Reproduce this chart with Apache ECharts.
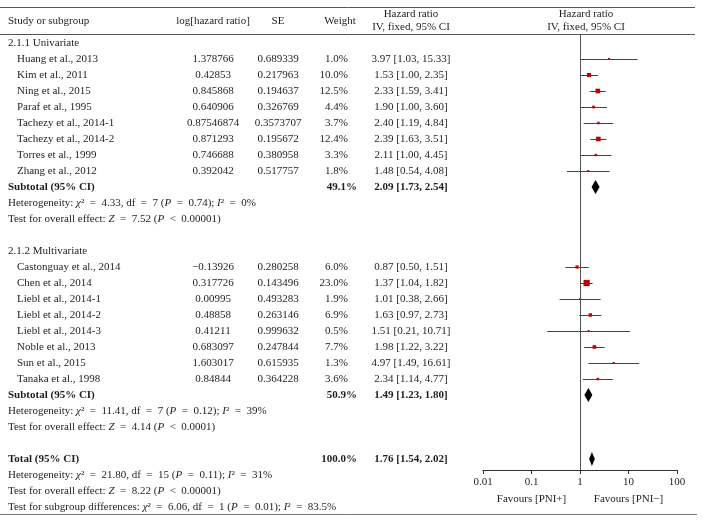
<!DOCTYPE html>
<html><head><meta charset="utf-8">
<script src="https://cdn.jsdelivr.net/npm/echarts@6/dist/echarts.min.js"></script>
<style>html,body{margin:0;padding:0;background:#fff}#c{width:703px;height:521px}</style>
</head><body><div id="c"></div>
<script>
// ---------------- data ----------------
const uniStudies = ['Huang et al., 2013','Kim et al., 2011','Ning et al., 2015','Paraf et al., 1995','Tachezy et al., 2014-1','Tachezy et al., 2014-2','Torres et al., 1999','Zhang et al., 2012'];
const uniLogHR = ['1.378766','0.42853','0.845868','0.640906','0.87546874','0.871293','0.746688','0.392042'];
const uniSE = ['0.689339','0.217963','0.194637','0.326769','0.3573707','0.195672','0.380958','0.517757'];
const uniWeight = [1.0,10.0,12.5,4.4,3.7,12.4,3.3,1.8];
const uniHR = [3.97,1.53,2.33,1.90,2.40,2.39,2.11,1.48];
const uniLo = [1.03,1.00,1.59,1.00,1.19,1.63,1.00,0.54];
const uniHi = [15.33,2.35,3.41,3.60,4.84,3.51,4.45,4.08];

const multiStudies = ['Castonguay et al., 2014','Chen et al., 2014','Liebl et al., 2014-1','Liebl et al., 2014-2','Liebl et al., 2014-3','Noble et al., 2013','Sun et al., 2015','Tanaka et al., 1998'];
const multiLogHR = ['\u22120.13926','0.317726','0.00995','0.48858','0.41211','0.683097','1.603017','0.84844'];
const multiSE = ['0.280258','0.143496','0.493283','0.263146','0.999632','0.247844','0.615935','0.364228'];
const multiWeight = [6.0,23.0,1.9,6.9,0.5,7.7,1.3,3.6];
const multiHR = [0.87,1.37,1.01,1.63,1.51,1.98,4.97,2.34];
const multiLo = [0.50,1.04,0.38,0.97,0.21,1.22,1.49,1.14];
const multiHi = [1.51,1.82,2.66,2.73,10.71,3.22,16.61,4.77];

const subgroupNames = ['2.1.1 Univariate','2.1.2 Multivariate'];
const subtotalWeight = [49.1,50.9];
const subtotalHR = [2.09,1.49];
const subtotalLo = [1.73,1.23];
const subtotalHi = [2.54,1.80];
// "\u2002" = en space used around relational operators (math spacing)
const subHeterogeneity = [
  'Heterogeneity: {i|\u03c7}\u00b2\u2002=\u20024.33, df\u2002=\u20027 ({i|P}\u2002=\u20020.74); {i|I}\u00b2\u2002=\u20020%',
  'Heterogeneity: {i|\u03c7}\u00b2\u2002=\u200211.41, df\u2002=\u20027 ({i|P}\u2002=\u20020.12); {i|I}\u00b2\u2002=\u200239%'
];
const subOverall = [
  'Test for overall effect: {i|Z}\u2002=\u20027.52 ({i|P}\u2002<\u20020.00001)',
  'Test for overall effect: {i|Z}\u2002=\u20024.14 ({i|P}\u2002<\u20020.0001)'
];
const totalWeight = 100.0, totalHR = 1.76, totalLo = 1.54, totalHi = 2.02;
const totalNotes = [
  'Heterogeneity: {i|\u03c7}\u00b2\u2002=\u200221.80, df\u2002=\u200215 ({i|P}\u2002=\u20020.11); {i|I}\u00b2\u2002=\u200231%',
  'Test for overall effect: {i|Z}\u2002=\u20028.22 ({i|P}\u2002<\u20020.00001)',
  'Test for subgroup differences: {i|\u03c7}\u00b2\u2002=\u20026.06, df\u2002=\u20021 ({i|P}\u2002=\u20020.01); {i|I}\u00b2\u2002=\u200283.5%'
];
const xTicks = [0.01,0.1,1,10,100];
const xTickLabels = ['0.01','0.1','1','10','100'];
const favourLabels = ['Favours [PNI+]','Favours [PNI\u2212]'];
const favourAt = [0.1,10];

// ---------------- build rows ----------------
const groups = [
  {names: uniStudies, lhr: uniLogHR, se: uniSE, w: uniWeight, hr: uniHR, lo: uniLo, hi: uniHi},
  {names: multiStudies, lhr: multiLogHR, se: multiSE, w: multiWeight, hr: multiHR, lo: multiLo, hi: multiHi}
];
const rows = [];
groups.forEach((g, gi) => {
  rows.push({type: 'section', label: subgroupNames[gi]});
  g.names.forEach((n, k) => rows.push({type: 'study', label: n, lhr: g.lhr[k], se: g.se[k], w: g.w[k], hr: g.hr[k], lo: g.lo[k], hi: g.hi[k]}));
  rows.push({type: 'sub', label: 'Subtotal (95% CI)', w: subtotalWeight[gi], hr: subtotalHR[gi], lo: subtotalLo[gi], hi: subtotalHi[gi]});
  rows.push({type: 'note', label: subHeterogeneity[gi]});
  rows.push({type: 'note', label: subOverall[gi]});
  rows.push({type: 'blank'});
});
rows.push({type: 'sub', label: 'Total (95% CI)', w: totalWeight, hr: totalHR, lo: totalLo, hi: totalHi});
totalNotes.forEach(t => rows.push({type: 'note', label: t}));

const studyData = [], diamondData = [];
rows.forEach((r, i) => {
  if (r.type === 'study') studyData.push([r.hr, r.lo, r.hi, i, r.w]);
  if (r.type === 'sub') diamondData.push([r.hr, r.lo, r.hi, i]);
});

// ---------------- layout constants ----------------
const FONT = '"Liberation Serif","Times New Roman",serif';
const FS = 11;
const TXT = '#1e1e1e';
const COL = {label: 8, indent: 17, lhr: 213, se: 278, wRight: 348, wBoldRight: 357, ci: 411};
const RICH = {i: {fontStyle: 'italic', fontFamily: FONT, fontSize: FS, fill: TXT}};
const fmt2 = v => v.toFixed(2);
const wfmt = v => v.toFixed(1) + '%';

function txt(x, y, text, align, bold, rich) {
  return {type: 'text', style: {x: x, y: y, text: text, fill: TXT, font: (bold ? 'bold ' : '') + FS + 'px ' + FONT,
    align: align, verticalAlign: 'middle', rich: rich ? RICH : undefined}};
}

const chart = echarts.init(document.getElementById('c'), null, {renderer: 'canvas'});
chart.setOption({
  animation: false,
  backgroundColor: '#fff',
  grid: {left: 483, right: 26, top: 34, bottom: 51},
  xAxis: {
    type: 'log', logBase: 10, min: xTicks[0], max: xTicks[xTicks.length - 1], position: 'bottom',
    splitLine: {show: false},
    axisLine: {onZero: false, lineStyle: {color: '#333', width: 1}},
    axisTick: {length: 4, lineStyle: {color: '#333'}},
    axisLabel: {fontFamily: FONT, fontSize: FS, color: TXT, margin: 7,
      formatter: v => { const k = xTicks.findIndex(t => Math.abs(Math.log10(t) - Math.log10(v)) < 1e-6); return k >= 0 ? xTickLabels[k] : ''; }}
  },
  yAxis: {type: 'value', inverse: true, min: -0.5625, max: 26.6875, show: false},
  graphic: [
    {type: 'line', shape: {x1: 0, y1: 7.5, x2: 695, y2: 7.5}, style: {stroke: '#555', lineWidth: 1}},
    {type: 'line', shape: {x1: 0, y1: 34.5, x2: 695, y2: 34.5}, style: {stroke: '#555', lineWidth: 1}},
    {type: 'line', shape: {x1: 0, y1: 514.5, x2: 697, y2: 514.5}, style: {stroke: '#777', lineWidth: 1}},
    {type: 'text', x: COL.label, y: 21, style: {text: 'Study or subgroup', font: FS + 'px ' + FONT, fill: TXT, verticalAlign: 'middle'}},
    {type: 'text', x: COL.lhr, y: 21, style: {text: 'log[hazard ratio]', font: FS + 'px ' + FONT, fill: TXT, align: 'center', verticalAlign: 'middle'}},
    {type: 'text', x: COL.se, y: 21, style: {text: 'SE', font: FS + 'px ' + FONT, fill: TXT, align: 'center', verticalAlign: 'middle'}},
    {type: 'text', x: 340, y: 21, style: {text: 'Weight', font: FS + 'px ' + FONT, fill: TXT, align: 'center', verticalAlign: 'middle'}},
    {type: 'text', x: COL.ci, y: 14, style: {text: 'Hazard ratio', font: FS + 'px ' + FONT, fill: TXT, align: 'center', verticalAlign: 'middle'}},
    {type: 'text', x: COL.ci, y: 27, style: {text: 'IV, fixed, 95% CI', font: FS + 'px ' + FONT, fill: TXT, align: 'center', verticalAlign: 'middle'}},
    {type: 'text', x: 586, y: 14, style: {text: 'Hazard ratio', font: FS + 'px ' + FONT, fill: TXT, align: 'center', verticalAlign: 'middle'}},
    {type: 'text', x: 586, y: 27, style: {text: 'IV, fixed, 95% CI', font: FS + 'px ' + FONT, fill: TXT, align: 'center', verticalAlign: 'middle'}}
  ],
  series: [
    {
      type: 'custom', name: 'table', clip: false, silent: true,
      data: rows.map((r, i) => [1, i]),
      encode: {x: 0, y: 1},
      renderItem: (params, api) => {
        const r = rows[params.dataIndex];
        const y = api.coord([1, api.value(1)])[1];
        const ch = [];
        if (r.type === 'section') ch.push(txt(COL.label, y, r.label, 'left', false));
        else if (r.type === 'study') {
          ch.push(txt(COL.indent, y, r.label, 'left', false));
          ch.push(txt(COL.lhr, y, r.lhr, 'center', false));
          ch.push(txt(COL.se, y, r.se, 'center', false));
          ch.push(txt(COL.wRight, y, wfmt(r.w), 'right', false));
          ch.push(txt(COL.ci, y, fmt2(r.hr) + ' [' + fmt2(r.lo) + ', ' + fmt2(r.hi) + ']', 'center', false));
        } else if (r.type === 'sub') {
          ch.push(txt(COL.label, y, r.label, 'left', true));
          ch.push(txt(COL.wBoldRight, y, wfmt(r.w), 'right', true));
          ch.push(txt(COL.ci, y, fmt2(r.hr) + ' [' + fmt2(r.lo) + ', ' + fmt2(r.hi) + ']', 'center', true));
        } else if (r.type === 'note') ch.push(txt(COL.label, y, r.label, 'left', false, true));
        return {type: 'group', children: ch};
      }
    },
    {
      type: 'custom', name: 'studies', clip: false, silent: true,
      data: studyData,
      encode: {x: [0, 1, 2], y: 3},
      renderItem: (params, api) => {
        const row = api.value(3);
        const p = api.coord([api.value(0), row]);
        const a = api.coord([api.value(1), row]);
        const b = api.coord([api.value(2), row]);
        const s = Math.max(2, 1.3 * Math.sqrt(api.value(4)));
        const yy = Math.round(p[1]) + 0.5;
        return {type: 'group', children: [
          {type: 'line', shape: {x1: a[0], y1: yy, x2: b[0], y2: yy}, style: {stroke: '#444', lineWidth: 1}},
          {type: 'rect', shape: {x: p[0] - s / 2, y: p[1] - s / 2, width: s, height: s}, style: {fill: '#c00000'}}
        ]};
      },
      markLine: {
        silent: true, symbol: 'none', label: {show: false},
        lineStyle: {color: '#555', width: 1, type: 'solid'},
        data: [{xAxis: 1}]
      }
    },
    {
      type: 'custom', name: 'diamonds', clip: false, silent: true,
      data: diamondData,
      encode: {x: [0, 1, 2], y: 3},
      renderItem: (params, api) => {
        const row = api.value(3);
        const p = api.coord([api.value(0), row]);
        const a = api.coord([api.value(1), row]);
        const b = api.coord([api.value(2), row]);
        const h = 7;
        return {type: 'polygon', shape: {points: [[a[0], p[1]], [p[0], p[1] - h], [b[0], p[1]], [p[0], p[1] + h]]},
          style: {fill: '#000'}};
      }
    },
    {
      type: 'custom', name: 'favours', clip: false, silent: true,
      data: favourAt.map((v, k) => [v, k]),
      encode: {x: 0},
      renderItem: (params, api) => {
        const p = api.coord([api.value(0), 26.6875]);
        return txt(p[0], p[1] + 29, favourLabels[params.dataIndex], 'center', false);
      }
    }
  ]
});
</script></body></html>
